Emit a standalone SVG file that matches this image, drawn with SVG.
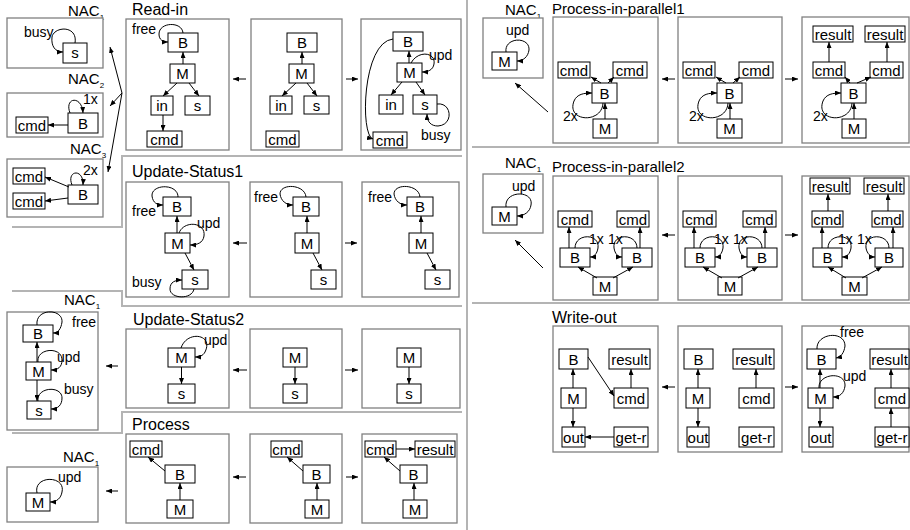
<svg xmlns="http://www.w3.org/2000/svg" width="910" height="530" viewBox="0 0 910 530">
<defs>
  <marker id="ah" viewBox="0 0 6 5" refX="6" refY="2.5" markerWidth="6" markerHeight="5" markerUnits="userSpaceOnUse" orient="auto">
    <path d="M0,0 L6,2.5 L0,5 z" fill="#000"/>
  </marker>
</defs>
<style>
  text { font-family: "Liberation Sans", Arial, Helvetica, sans-serif; fill: #000; }
  .title { font-size: 16px; }
  .title-n { font-size: 15px; }
  .nac { font-size: 15px; }
  .sub { font-size: 8px; }
  .lbl { font-size: 14px; }
  .frame { fill: #fff; stroke: #808080; stroke-width: 1.3; }
  .sep { fill: none; stroke: #b4b4b4; stroke-width: 2; }
  .n rect { fill: #fff; stroke: #000; stroke-width: 1; }
  .n text { font-size: 15px; text-anchor: middle; }
  .e path { fill: none; stroke: #000; stroke-width: 1; marker-end: url(#ah); }
</style>
<rect width="910" height="530" fill="#fff"/>

<!-- section separators -->
<g id="separators">
  <polyline class="sep" points="12,227 122,227 122,156 462,156"/>
  <polyline class="sep" points="12,291 122,291 122,306 462,306"/>
  <polyline class="sep" points="12,433 122,433 122,412 462,412"/>
  <line class="sep" x1="467" y1="0" x2="467" y2="530"/>
  <line class="sep" x1="472" y1="147" x2="910" y2="147"/>
  <line class="sep" x1="472" y1="303" x2="910" y2="303"/>
</g>

<!-- ===== Read-in ===== -->
<g id="read-in">
  <text class="title" x="132" y="15">Read-in</text>
  <text class="nac" x="68" y="16">NAC<tspan class="sub" dy="4">1</tspan></text>
  <text class="nac" x="68" y="84">NAC<tspan class="sub" dy="4">2</tspan></text>
  <text class="nac" x="70" y="154">NAC<tspan class="sub" dy="4">3</tspan></text>
  <rect class="frame" x="7" y="18" width="96" height="50"/>
  <rect class="frame" x="7" y="93" width="96" height="44"/>
  <rect class="frame" x="7" y="159" width="96" height="58"/>
  <rect class="frame" x="126" y="19" width="103" height="131"/>
  <rect class="frame" x="251" y="19" width="91" height="131"/>
  <rect class="frame" x="361" y="19" width="100" height="131"/>
  <text class="lbl" x="24" y="37">busy</text>
  <text class="lbl" x="83" y="104">1x</text>
  <text class="lbl" x="83" y="175">2x</text>
  <text class="lbl" x="132" y="34">free</text>
  <text class="lbl" x="429" y="60">upd</text>
  <text class="lbl" x="421" y="140">busy</text>

  <g id="nac1-s" class="n"><rect x="63" y="43" width="24" height="20"/><text x="75" y="58">s</text></g>
  <g id="nac2-cmd" class="n"><rect x="16" y="117" width="32" height="16"/><text x="32" y="130.5">cmd</text></g>
  <g id="nac2-B" class="n"><rect x="68" y="113" width="30" height="20"/><text x="83" y="128.5">B</text></g>
  <g id="nac3-cmd1" class="n"><rect x="13" y="168" width="32" height="16"/><text x="29" y="181.5">cmd</text></g>
  <g id="nac3-cmd2" class="n"><rect x="13" y="193" width="32" height="16"/><text x="29" y="206.5">cmd</text></g>
  <g id="nac3-B" class="n"><rect x="68" y="185" width="30" height="19"/><text x="83" y="200">B</text></g>

  <g id="ri1-B" class="n"><rect x="168" y="33" width="30" height="19"/><text x="183" y="48">B</text></g>
  <g id="ri1-M" class="n"><rect x="170" y="64" width="25" height="19"/><text x="182.5" y="79">M</text></g>
  <g id="ri1-in" class="n"><rect x="151" y="96" width="22" height="19"/><text x="162" y="111">in</text></g>
  <g id="ri1-s" class="n"><rect x="185" y="96" width="25" height="19"/><text x="197.5" y="111">s</text></g>
  <g id="ri1-cmd" class="n"><rect x="147" y="131" width="35" height="16"/><text x="164.5" y="144.5">cmd</text></g>

  <g id="ri2-B" class="n"><rect x="287" y="33" width="30" height="19"/><text x="302" y="48">B</text></g>
  <g id="ri2-M" class="n"><rect x="289" y="64" width="25" height="19"/><text x="301.5" y="79">M</text></g>
  <g id="ri2-in" class="n"><rect x="270" y="96" width="22" height="18"/><text x="281" y="110.5">in</text></g>
  <g id="ri2-s" class="n"><rect x="304" y="96" width="25" height="18"/><text x="316.5" y="110.5">s</text></g>
  <g id="ri2-cmd" class="n"><rect x="266" y="131" width="33" height="16"/><text x="282.5" y="144.5">cmd</text></g>

  <g id="ri3-B" class="n"><rect x="393" y="32" width="30" height="19"/><text x="408" y="47">B</text></g>
  <g id="ri3-M" class="n"><rect x="397" y="63" width="25" height="19"/><text x="409.5" y="78">M</text></g>
  <g id="ri3-in" class="n"><rect x="379" y="95" width="24" height="19"/><text x="391" y="110">in</text></g>
  <g id="ri3-s" class="n"><rect x="413" y="95" width="24" height="19"/><text x="425" y="110">s</text></g>
  <g id="ri3-cmd" class="n"><rect x="373" y="132" width="34" height="16"/><text x="390" y="145.5">cmd</text></g>
</g>

<!-- ===== Update-Status1 ===== -->
<g id="update-status1">
  <text class="title" x="132" y="177">Update-Status1</text>
  <rect class="frame" x="126" y="182" width="103" height="115"/>
  <rect class="frame" x="250" y="182" width="92" height="115"/>
  <rect class="frame" x="362" y="182" width="97" height="115"/>
  <text class="lbl" x="132" y="216">free</text>
  <text class="lbl" x="197" y="228">upd</text>
  <text class="lbl" x="132" y="287">busy</text>
  <text class="lbl" x="254" y="202">free</text>
  <text class="lbl" x="368" y="202">free</text>
  <g id="u1a-B" class="n"><rect x="163" y="197" width="28" height="19"/><text x="177" y="212">B</text></g>
  <g id="u1a-M" class="n"><rect x="165" y="233" width="25" height="20"/><text x="177.5" y="248.5">M</text></g>
  <g id="u1a-s" class="n"><rect x="182" y="270" width="26" height="19"/><text x="195" y="285">s</text></g>
  <g id="u1b-B" class="n"><rect x="293" y="197" width="26" height="19"/><text x="306" y="212">B</text></g>
  <g id="u1b-M" class="n"><rect x="295" y="233" width="24" height="20"/><text x="307" y="248.5">M</text></g>
  <g id="u1b-s" class="n"><rect x="311" y="270" width="25" height="19"/><text x="323.5" y="285">s</text></g>
  <g id="u1c-B" class="n"><rect x="407" y="197" width="26" height="19"/><text x="420" y="212">B</text></g>
  <g id="u1c-M" class="n"><rect x="409" y="233" width="24" height="20"/><text x="421" y="248.5">M</text></g>
  <g id="u1c-s" class="n"><rect x="425" y="270" width="25" height="19"/><text x="437.5" y="285">s</text></g>
</g>

<!-- ===== Update-Status2 ===== -->
<g id="update-status2">
  <text class="title" x="133" y="325">Update-Status2</text>
  <text class="nac" x="64" y="305">NAC<tspan class="sub" dy="4">1</tspan></text>
  <rect class="frame" x="7" y="312" width="91" height="118"/>
  <rect class="frame" x="126" y="329" width="103" height="79"/>
  <rect class="frame" x="250" y="329" width="92" height="79"/>
  <rect class="frame" x="362" y="329" width="98" height="79"/>
  <text class="lbl" x="72" y="327">free</text>
  <text class="lbl" x="57" y="362">upd</text>
  <text class="lbl" x="64" y="394">busy</text>
  <text class="lbl" x="204" y="345">upd</text>
  <g id="u2n-B" class="n"><rect x="23" y="325" width="30" height="17"/><text x="38" y="339">B</text></g>
  <g id="u2n-M" class="n"><rect x="26" y="362" width="25" height="18"/><text x="38.5" y="376.5">M</text></g>
  <g id="u2n-s" class="n"><rect x="27" y="401" width="24" height="18"/><text x="39" y="415.5">s</text></g>
  <g id="u2a-M" class="n"><rect x="168" y="348" width="27" height="19"/><text x="181.5" y="363">M</text></g>
  <g id="u2a-s" class="n"><rect x="168" y="384" width="27" height="19"/><text x="181.5" y="399">s</text></g>
  <g id="u2b-M" class="n"><rect x="283" y="348" width="24" height="19"/><text x="295" y="363">M</text></g>
  <g id="u2b-s" class="n"><rect x="283" y="384" width="24" height="19"/><text x="295" y="399">s</text></g>
  <g id="u2c-M" class="n"><rect x="397" y="348" width="24" height="19"/><text x="409" y="363">M</text></g>
  <g id="u2c-s" class="n"><rect x="397" y="384" width="24" height="19"/><text x="409" y="399">s</text></g>
</g>

<!-- ===== Process ===== -->
<g id="process">
  <text class="title" x="132" y="430">Process</text>
  <text class="nac" x="63" y="462">NAC<tspan class="sub" dy="4">1</tspan></text>
  <rect class="frame" x="7" y="467" width="91" height="55"/>
  <rect class="frame" x="126" y="434" width="103" height="89"/>
  <rect class="frame" x="250" y="434" width="92" height="89"/>
  <rect class="frame" x="362" y="434" width="95" height="89"/>
  <text class="lbl" x="58" y="482">upd</text>
  <g id="pn-M" class="n"><rect x="26" y="493" width="24" height="18"/><text x="38" y="507.5">M</text></g>
  <g id="p1-cmd" class="n"><rect x="130" y="441" width="32" height="16"/><text x="146" y="454.5">cmd</text></g>
  <g id="p1-B" class="n"><rect x="165" y="465" width="30" height="18"/><text x="180" y="479.5">B</text></g>
  <g id="p1-M" class="n"><rect x="167" y="500" width="26" height="18"/><text x="180" y="514.5">M</text></g>
  <g id="p2-cmd" class="n"><rect x="271" y="441" width="31" height="16"/><text x="286.5" y="454.5">cmd</text></g>
  <g id="p2-B" class="n"><rect x="303" y="465" width="27" height="18"/><text x="316.5" y="479.5">B</text></g>
  <g id="p2-M" class="n"><rect x="305" y="500" width="24" height="18"/><text x="317" y="514.5">M</text></g>
  <g id="p3-cmd" class="n"><rect x="365" y="441" width="31" height="16"/><text x="380.5" y="454.5">cmd</text></g>
  <g id="p3-result" class="n"><rect x="415" y="441" width="40" height="16"/><text x="435" y="454.5">result</text></g>
  <g id="p3-B" class="n"><rect x="400" y="465" width="27" height="18"/><text x="413.5" y="479.5">B</text></g>
  <g id="p3-M" class="n"><rect x="403" y="500" width="24" height="18"/><text x="415" y="514.5">M</text></g>
</g>

<!-- ===== Process-in-parallel1 ===== -->
<g id="process-in-parallel1">
  <text class="title-n" x="552" y="14">Process-in-parallel1</text>
  <text class="nac" x="505" y="15">NAC<tspan class="sub" dy="4">1</tspan></text>
  <rect class="frame" x="483" y="18" width="60" height="60"/>
  <rect class="frame" x="553" y="17" width="105" height="126"/>
  <rect class="frame" x="678" y="17" width="104" height="126"/>
  <rect class="frame" x="802" y="17" width="107" height="126"/>
  <text class="lbl" x="506" y="35">upd</text>
  <text class="lbl" x="563" y="121">2x</text>
  <text class="lbl" x="689" y="121">2x</text>
  <text class="lbl" x="813" y="121">2x</text>
  <g id="a0-M" class="n"><rect x="492" y="52" width="25" height="18"/><text x="504.5" y="66.5">M</text></g>
  <g id="a1-cmd1" class="n"><rect x="558" y="62" width="32" height="16"/><text x="574" y="75.5">cmd</text></g>
  <g id="a1-cmd2" class="n"><rect x="613" y="62" width="34" height="16"/><text x="630" y="75.5">cmd</text></g>
  <g id="a1-B" class="n"><rect x="592" y="83" width="25" height="20"/><text x="604.5" y="98.5">B</text></g>
  <g id="a1-M" class="n"><rect x="593" y="119" width="24" height="19"/><text x="605" y="134">M</text></g>
  <g id="a2-cmd1" class="n"><rect x="683" y="62" width="32" height="16"/><text x="699" y="75.5">cmd</text></g>
  <g id="a2-cmd2" class="n"><rect x="739" y="62" width="34" height="16"/><text x="756" y="75.5">cmd</text></g>
  <g id="a2-B" class="n"><rect x="717" y="83" width="25" height="20"/><text x="729.5" y="98.5">B</text></g>
  <g id="a2-M" class="n"><rect x="717" y="119" width="25" height="19"/><text x="729.5" y="134">M</text></g>
  <g id="a3-result1" class="n"><rect x="813" y="26" width="40" height="16"/><text x="833" y="39.5">result</text></g>
  <g id="a3-result2" class="n"><rect x="865" y="26" width="40" height="16"/><text x="885" y="39.5">result</text></g>
  <g id="a3-cmd1" class="n"><rect x="813" y="62" width="32" height="16"/><text x="829" y="75.5">cmd</text></g>
  <g id="a3-cmd2" class="n"><rect x="870" y="62" width="33" height="16"/><text x="886.5" y="75.5">cmd</text></g>
  <g id="a3-B" class="n"><rect x="841" y="83" width="25" height="20"/><text x="853.5" y="98.5">B</text></g>
  <g id="a3-M" class="n"><rect x="842" y="119" width="24" height="19"/><text x="854" y="134">M</text></g>
</g>

<!-- ===== Process-in-parallel2 ===== -->
<g id="process-in-parallel2">
  <text class="title-n" x="552" y="172">Process-in-parallel2</text>
  <text class="nac" x="505" y="168">NAC<tspan class="sub" dy="4">1</tspan></text>
  <rect class="frame" x="483" y="174" width="60" height="59"/>
  <rect class="frame" x="553" y="176" width="105" height="124"/>
  <rect class="frame" x="678" y="176" width="104" height="124"/>
  <rect class="frame" x="802" y="176" width="107" height="124"/>
  <text class="lbl" x="512" y="191">upd</text>
  <text class="lbl" x="589" y="244">1x</text>
  <text class="lbl" x="608" y="244">1x</text>
  <text class="lbl" x="714" y="244">1x</text>
  <text class="lbl" x="733" y="244">1x</text>
  <text class="lbl" x="838" y="244">1x</text>
  <text class="lbl" x="857" y="244">1x</text>
  <g id="b0-M" class="n"><rect x="492" y="207" width="25" height="18"/><text x="504.5" y="221.5">M</text></g>
  <g id="b1-cmd1" class="n"><rect x="558" y="211" width="34" height="16"/><text x="575" y="224.5">cmd</text></g>
  <g id="b1-cmd2" class="n"><rect x="617" y="211" width="32" height="16"/><text x="633" y="224.5">cmd</text></g>
  <g id="b1-B1" class="n"><rect x="560" y="248" width="30" height="19"/><text x="575" y="263">B</text></g>
  <g id="b1-B2" class="n"><rect x="622" y="248" width="30" height="19"/><text x="637" y="263">B</text></g>
  <g id="b1-M" class="n"><rect x="593" y="277" width="24" height="18"/><text x="605" y="291.5">M</text></g>
  <g id="b2-cmd1" class="n"><rect x="683" y="211" width="33" height="16"/><text x="699.5" y="224.5">cmd</text></g>
  <g id="b2-cmd2" class="n"><rect x="743" y="211" width="33" height="16"/><text x="759.5" y="224.5">cmd</text></g>
  <g id="b2-B1" class="n"><rect x="685" y="248" width="30" height="19"/><text x="700" y="263">B</text></g>
  <g id="b2-B2" class="n"><rect x="747" y="248" width="30" height="19"/><text x="762" y="263">B</text></g>
  <g id="b2-M" class="n"><rect x="718" y="277" width="24" height="18"/><text x="730" y="291.5">M</text></g>
  <g id="b3-result1" class="n"><rect x="810" y="178" width="40" height="16"/><text x="830" y="191.5">result</text></g>
  <g id="b3-result2" class="n"><rect x="864" y="178" width="40" height="16"/><text x="884" y="191.5">result</text></g>
  <g id="b3-cmd1" class="n"><rect x="812" y="211" width="31" height="16"/><text x="827.5" y="224.5">cmd</text></g>
  <g id="b3-cmd2" class="n"><rect x="872" y="211" width="31" height="16"/><text x="887.5" y="224.5">cmd</text></g>
  <g id="b3-B1" class="n"><rect x="813" y="248" width="29" height="19"/><text x="827.5" y="263">B</text></g>
  <g id="b3-B2" class="n"><rect x="875" y="248" width="28" height="19"/><text x="889" y="263">B</text></g>
  <g id="b3-M" class="n"><rect x="842" y="277" width="25" height="18"/><text x="854.5" y="291.5">M</text></g>
</g>

<!-- ===== Write-out ===== -->
<g id="write-out">
  <text class="title" x="552" y="323">Write-out</text>
  <rect class="frame" x="553" y="326" width="105" height="126"/>
  <rect class="frame" x="678" y="326" width="104" height="126"/>
  <rect class="frame" x="802" y="326" width="107" height="126"/>
  <text class="lbl" x="840" y="337">free</text>
  <text class="lbl" x="843" y="381">upd</text>
  <g id="w1-B" class="n"><rect x="559" y="349" width="29" height="20"/><text x="573.5" y="364.5">B</text></g>
  <g id="w1-result" class="n"><rect x="609" y="349" width="41" height="20"/><text x="629.5" y="364.5">result</text></g>
  <g id="w1-M" class="n"><rect x="561" y="388" width="25" height="20"/><text x="573.5" y="403.5">M</text></g>
  <g id="w1-cmd" class="n"><rect x="614" y="388" width="34" height="20"/><text x="631" y="403.5">cmd</text></g>
  <g id="w1-out" class="n"><rect x="562" y="427" width="23" height="20"/><text x="573.5" y="442.5">out</text></g>
  <g id="w1-getr" class="n"><rect x="614" y="427" width="34" height="20"/><text x="631" y="442.5">get-r</text></g>
  <g id="w2-B" class="n"><rect x="684" y="349" width="29" height="20"/><text x="698.5" y="364.5">B</text></g>
  <g id="w2-result" class="n"><rect x="733" y="349" width="41" height="20"/><text x="753.5" y="364.5">result</text></g>
  <g id="w2-M" class="n"><rect x="686" y="388" width="24" height="20"/><text x="698" y="403.5">M</text></g>
  <g id="w2-cmd" class="n"><rect x="739" y="388" width="35" height="20"/><text x="756.5" y="403.5">cmd</text></g>
  <g id="w2-out" class="n"><rect x="687" y="427" width="22" height="20"/><text x="698" y="442.5">out</text></g>
  <g id="w2-getr" class="n"><rect x="739" y="427" width="35" height="20"/><text x="756.5" y="442.5">get-r</text></g>
  <g id="w3-B" class="n"><rect x="807" y="349" width="29" height="20"/><text x="821.5" y="364.5">B</text></g>
  <g id="w3-result" class="n"><rect x="870" y="349" width="39" height="20"/><text x="889.5" y="364.5">result</text></g>
  <g id="w3-M" class="n"><rect x="808" y="388" width="25" height="20"/><text x="820.5" y="403.5">M</text></g>
  <g id="w3-cmd" class="n"><rect x="875" y="388" width="34" height="20"/><text x="892" y="403.5">cmd</text></g>
  <g id="w3-out" class="n"><rect x="809" y="427" width="24" height="20"/><text x="821" y="442.5">out</text></g>
  <g id="w3-getr" class="n"><rect x="875" y="427" width="34" height="20"/><text x="892" y="442.5">get-r</text></g>
</g>

<!-- ===== connectors ===== -->
<g id="connectors" class="e">
  <!-- Read-in: NAC fan -->
  <path d="M122 93 L110 47"/>
  <path d="M122 93 L110 106"/>
  <path d="M122 93 L108 172"/>
  <!-- Read-in NACs -->
  <path d="M75 43 C78 25 54 26 52 37 C51 46 55 52 63 52"/>
  <path d="M68 125 L48 125"/>
  <path d="M70 113 C64 97 82 95 83 113"/>
  <path d="M69 187 L45 177"/>
  <path d="M68 198 L45 201"/>
  <path d="M72 185 C66 170 84 168 83 185"/>
  <!-- Read-in rule -->
  <path d="M183 33 C182 21 159 22 159 34 C159 40 163 42 168 42"/>
  <path d="M183 64 L183 52"/>
  <path d="M177 83 L163 96"/>
  <path d="M189 83 L199 96"/>
  <path d="M163 115 L163 131"/>
  <path d="M246 79 L233 79"/>
  <path d="M302 64 L302 52"/>
  <path d="M296 83 L282 96"/>
  <path d="M307 83 L317 96"/>
  <path d="M346 79 L358 79"/>
  <path d="M409 63 L409 51"/>
  <path d="M402 82 L391 95"/>
  <path d="M416 82 L425 95"/>
  <path d="M411 63 C418 50 436 52 434 64 C433 70 428 72 422 72"/>
  <path d="M437 104 C452 102 454 125 438 126 C431 126 427 122 427 114"/>
  <path d="M393 39 C362 42 360 136 373 139"/>
  <!-- Update-Status1 -->
  <path d="M177 233 L177 216"/>
  <path d="M185 253 L194 270"/>
  <path d="M178 197 C178 183 151 184 152 196 C153 203 157 205 163 205"/>
  <path d="M179 233 C184 220 206 222 204 236 C203 243 197 245 190 245"/>
  <path d="M194 289 C192 300 170 299 170 289 C170 282 175 280 182 280"/>
  <path d="M247 243 L233 243"/>
  <path d="M307 233 L307 216"/>
  <path d="M313 253 L322 270"/>
  <path d="M306 197 C305 184 280 183 280 194 C281 201 286 205 293 205"/>
  <path d="M345 243 L357 243"/>
  <path d="M421 233 L421 216"/>
  <path d="M427 253 L436 270"/>
  <path d="M420 197 C419 184 394 183 394 194 C395 201 400 205 407 205"/>
  <!-- Update-Status2 -->
  <path d="M37 325 C35 308 63 308 62 322 C61 329 58 333 53 333"/>
  <path d="M37 362 L37 342"/>
  <path d="M38 362 C36 348 62 346 62 360 C62 367 58 370 51 370"/>
  <path d="M37 380 L37 401"/>
  <path d="M38 401 C36 387 62 385 62 398 C62 405 58 409 51 409"/>
  <path d="M118 366 L106 366"/>
  <path d="M181 348 C187 330 214 334 205 352 C203 356 199 357 195 357"/>
  <path d="M181.5 367 L181.5 384"/>
  <path d="M247 370 L233 370"/>
  <path d="M295 367 L295 384"/>
  <path d="M345 370 L358 370"/>
  <path d="M409 367 L409 384"/>
  <!-- Process -->
  <path d="M37 493 C33 475 66 475 62 492 C61 498 57 502 50 502"/>
  <path d="M118 491 L106 491"/>
  <path d="M165 471 L148 457"/>
  <path d="M180 500 L180 483"/>
  <path d="M246 477 L233 477"/>
  <path d="M303 471 L287 457"/>
  <path d="M317 500 L317 483"/>
  <path d="M346 477 L358 477"/>
  <path d="M396 449 L415 449"/>
  <path d="M400 471 L384 457"/>
  <path d="M414 500 L414 483"/>
  <!-- Process-in-parallel1 -->
  <path d="M506 52 C504 37 530 36 529 50 C528 57 523 61 517 61"/>
  <path d="M548 112 L515 83"/>
  <path d="M605 119 L605 103"/>
  <path d="M601 83 L591 77"/>
  <path d="M608 83 L614 77"/>
  <path d="M603 103 C602 124 566 122 574 101 C577 94 584 93 592 93"/>
  <path d="M675 79 L662 79"/>
  <path d="M730 119 L730 103"/>
  <path d="M726 83 L716 77"/>
  <path d="M733 83 L740 77"/>
  <path d="M728 103 C727 124 691 122 699 101 C702 94 709 93 717 93"/>
  <path d="M785 79 L798 79"/>
  <path d="M854 119 L854 103"/>
  <path d="M850 83 L845 77"/>
  <path d="M857 83 L871 77"/>
  <path d="M852 103 C851 124 815 122 823 101 C826 94 833 93 841 93"/>
  <path d="M829 62 L829 42"/>
  <path d="M887 62 L887 42"/>
  <!-- Process-in-parallel2 -->
  <path d="M506 207 C504 190 534 190 531 205 C530 212 524 216 517 216"/>
  <path d="M543 268 L515 240"/>
  <path d="M569 248 L569 227"/>
  <path d="M640 248 L640 227"/>
  <path d="M597 278 L578 267"/>
  <path d="M613 278 L633 267"/>
  <path d="M575 248 C575 233 600 233 598 248 C597 254 594 257 590 257"/>
  <path d="M637 248 C637 233 612 233 614 248 C615 254 618 257 622 257"/>
  <path d="M675 235 L662 235"/>
  <path d="M694 248 L694 227"/>
  <path d="M765 248 L765 227"/>
  <path d="M722 278 L703 267"/>
  <path d="M738 278 L758 267"/>
  <path d="M700 248 C700 233 725 233 723 248 C722 254 719 257 715 257"/>
  <path d="M762 248 C762 233 737 233 739 248 C740 254 743 257 747 257"/>
  <path d="M785 235 L798 235"/>
  <path d="M822 248 L822 227"/>
  <path d="M893 248 L893 227"/>
  <path d="M846 278 L828 267"/>
  <path d="M862 278 L882 267"/>
  <path d="M828 248 C828 233 853 233 851 248 C850 254 847 257 842 257"/>
  <path d="M889 248 C889 233 864 233 866 248 C867 254 871 257 875 257"/>
  <path d="M828 211 L828 194"/>
  <path d="M888 211 L888 194"/>
  <!-- Write-out -->
  <path d="M573 388 L573 369"/>
  <path d="M573 408 L573 427"/>
  <path d="M631 388 L631 369"/>
  <path d="M614 437 L585 437"/>
  <path d="M588 357 L614 396"/>
  <path d="M675 387 L662 387"/>
  <path d="M698 388 L698 369"/>
  <path d="M698 408 L698 427"/>
  <path d="M756 388 L756 369"/>
  <path d="M785 387 L798 387"/>
  <path d="M820 388 L820 369"/>
  <path d="M820 408 L820 427"/>
  <path d="M891 427 L891 408"/>
  <path d="M891 388 L891 369"/>
  <path d="M817 349 C816 333 845 330 845 346 C844 353 841 357 836 358"/>
  <path d="M819 388 C818 373 846 371 845 386 C844 393 840 397 833 397"/>
</g>
</svg>
